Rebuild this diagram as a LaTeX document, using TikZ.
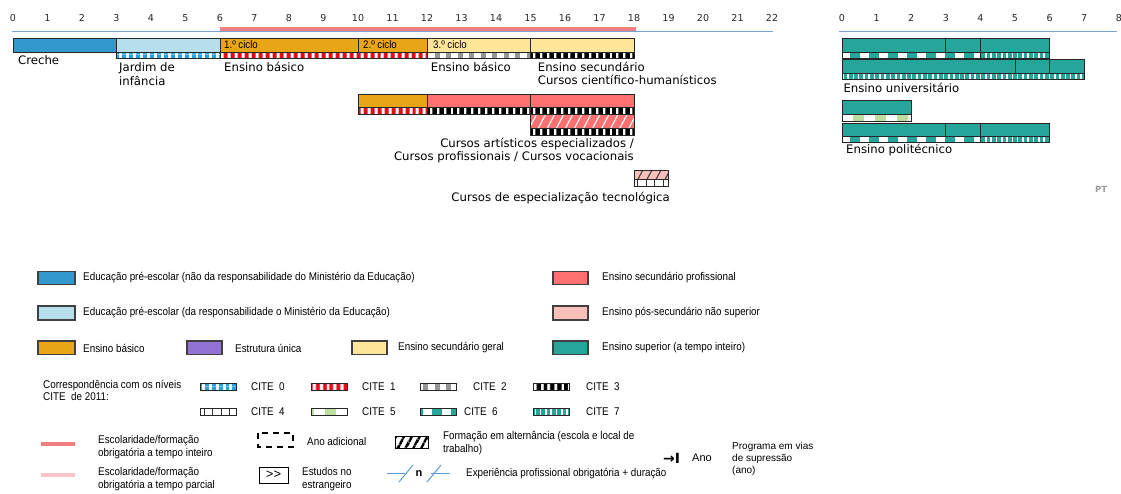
\documentclass[tikz,border=0pt]{standalone}
\usepackage{fontspec}
\setmainfont{DejaVu Sans}
\newfontfamily\narrowfont[FakeStretch=0.88]{Liberation Sans}
\newfontfamily\arialfont{Liberation Sans}
\usetikzlibrary{patterns.meta}
\definecolor{creche}{RGB}{51,153,204}
\definecolor{jardim}{RGB}{183,222,235}
\definecolor{basico}{RGB}{232,165,22}
\definecolor{secgeral}{RGB}{255,230,153}
\definecolor{secprof}{RGB}{255,112,112}
\definecolor{possec}{RGB}{248,192,184}
\definecolor{superior}{RGB}{38,166,154}
\definecolor{unica}{RGB}{145,115,213}
\definecolor{citeblue}{RGB}{40,160,220}
\definecolor{citered}{RGB}{230,10,25}
\definecolor{citegray}{RGB}{150,150,150}
\definecolor{citegreen}{RGB}{190,222,160}
\definecolor{axisblue}{RGB}{120,165,215}
\definecolor{obrig}{RGB}{240,128,128}
\definecolor{parcial}{RGB}{250,195,200}
\definecolor{expblue}{RGB}{91,155,213}

\begin{document}
\begin{tikzpicture}[x=1pt,y=-1pt]
  \tikzset{bar/.style={draw=black!85,line width=0.8pt}}
  \tikzset{stripe/.style n args={3}{bar,preaction={fill=white},pattern={Lines[angle=90,distance=#1,line width=#2]},pattern color=#3}}
  \tikzset{cite0/.style={stripe={6.5pt}{4.5pt}{citeblue}}}
  \tikzset{cite1/.style={stripe={6.9pt}{4pt}{citered}}}
  \tikzset{cite2/.style={stripe={11.5pt}{5pt}{citegray}}}
  \tikzset{cite3/.style={stripe={6.9pt}{4.5pt}{black}}}
  \tikzset{cite4/.style={stripe={8.5pt}{1pt}{black!80}}}
  \tikzset{cite5/.style={stripe={22pt}{11pt}{citegreen}}}
  \tikzset{cite6/.style={stripe={19pt}{9.5pt}{superior}}}
  \tikzset{cite7/.style={bar,preaction={fill=superior},pattern={Lines[angle=90,distance=5.3pt,line width=1.6pt]},pattern color=white}}
  \tikzset{alternancia/.style n args={2}{bar,preaction={fill=#1},pattern={Lines[angle=62,distance=8pt,line width=1.1pt]},pattern color=#2}}
  \tikzset{num/.style={anchor=base,inner sep=0pt,text=black!85,font=\fontsize{9.5}{11}\selectfont}}
  \tikzset{lbl/.style={anchor=west,inner sep=0pt,align=left,font=\fontsize{11.7}{13.3}\selectfont}}
  \tikzset{ciclo/.style={anchor=base west,inner sep=0pt,font=\narrowfont\fontsize{11}{12}\selectfont}}
  \tikzset{leg/.style={anchor=west,inner sep=0pt,align=left,font=\narrowfont\fontsize{11.2}{12.5}\selectfont}}
  \tikzset{legbox/.style={draw=black!75,line width=1.2pt}}
  \useasboundingbox (0,0) rectangle (1121,493);

  \begin{scope}[xshift=13pt,x=34.5pt]
    \draw[axisblue,line width=1pt] (-0.03,31.5) -- (22.03,31.5);
    \draw[obrig,line width=4pt] (6,28.5) -- (18.05,28.5);
    \foreach \n in {0,...,22} \node[num] (year\n) at (\n,21) {\n};
    \draw[bar,fill=creche] (0,38) rectangle (3,52);
    \draw[bar,fill=jardim] (3,38) rectangle (6,52);
    \draw[bar,fill=basico] (6,38) rectangle (10,52);
    \draw[bar,fill=basico] (10,38) rectangle (12,52);
    \draw[bar,fill=secgeral] (12,38) rectangle (15,52);
    \draw[bar,fill=secgeral] (15,38) rectangle (18,52);
    \draw[cite0] (3,52) rectangle (6,58.3);
    \draw[cite1] (6,52) rectangle (12,58.3);
    \draw[cite2] (12,52) rectangle (15,58.3);
    \draw[cite3] (15,52) rectangle (18,58.3);
    \draw[bar,fill=basico] (10,94.3) rectangle (12,107.3);
    \draw[bar,fill=secprof] (12,94.3) rectangle (15,107.3);
    \draw[bar,fill=secprof] (15,94.3) rectangle (18,107.3);
    \draw[cite1] (10,107.3) rectangle (12,114.3);
    \draw[cite3] (12,107.3) rectangle (15,114.3);
    \draw[cite3] (15,107.3) rectangle (18,114.3);
    \draw[alternancia={secprof}{white}] (15,114.3) rectangle (18,128.3);
    \draw[cite3] (15,128.3) rectangle (18,135.7);
    \draw[alternancia={possec}{black!75}] (18,170) rectangle (19,179.3);
    \draw[cite4] (18,179.3) rectangle (19,186);
  \end{scope}

  \begin{scope}[xshift=842pt,x=34.6pt]
    \draw[axisblue,line width=1pt] (-0.08,31.5) -- (7.95,31.5);
    \foreach \n in {0,...,8} \node[num] (ects\n) at (\n,21) {\n};
    \draw[bar,fill=superior] (0,38) rectangle (3,52);
    \draw[bar,fill=superior] (3,38) rectangle (4,52);
    \draw[bar,fill=superior] (4,38) rectangle (6,52);
    \draw[cite6] (0,52) rectangle (4,58.3);
    \draw[cite7] (4,52) rectangle (6,58.3);
    \draw[bar,fill=superior] (0,59.7) rectangle (5,73);
    \draw[bar,fill=superior] (5,59.7) rectangle (6,73);
    \draw[bar,fill=superior] (6,59.7) rectangle (7,73);
    \draw[cite7] (0,73) rectangle (7,79.7);
    \draw[bar,fill=superior] (0,100.7) rectangle (2,114.7);
    \draw[cite5] (0,114.7) rectangle (2,121.7);
    \draw[bar,fill=superior] (0,123) rectangle (3,136);
    \draw[bar,fill=superior] (3,123) rectangle (4,136);
    \draw[bar,fill=superior] (4,123) rectangle (6,136);
    \draw[cite6] (0,136) rectangle (4,142.3);
    \draw[cite7] (4,136) rectangle (6,142.3);
  \end{scope}

  \node[lbl] (creche) at (18,60) {Creche};
  \node[lbl] (jardim) at (119,74) {Jardim de\\infância};
  \node[lbl] (basico1) at (224,67) {Ensino básico};
  \node[lbl] (basico3) at (430.7,67) {Ensino básico};
  \node[lbl] (secgeral) at (537.7,73.6) {Ensino secundário\\Cursos científico-humanísticos};
  \node[lbl,anchor=east,align=right] (secprof) at (634,150.5) {Cursos artísticos especializados /\\Cursos profissionais / Cursos vocacionais};
  \node[lbl,anchor=east] (cet) at (670,198) {Cursos de especialização tecnológica};
  \node[lbl] (univ) at (843.3,87.5) {Ensino universitário};
  \node[lbl] (poli) at (846,150) {Ensino politécnico};
  \node[ciclo] (ciclo1) at (224,48.5) {1.º ciclo};
  \node[ciclo] (ciclo2) at (363,48.5) {2.º ciclo};
  \node[ciclo] (ciclo3) at (433,48.5) {3.º ciclo};
  \node[anchor=west,inner sep=0pt,text=black!40,font=\bfseries\fontsize{8.5}{10}\selectfont] (pais) at (1095,189) {PT};

  \draw[legbox,fill=creche] (38,271.7) rectangle (75,284.3);
  \node[leg] (lcreche) at (83,278) {Educação pré-escolar (não da responsabilidade do Ministério da Educação)};
  \draw[legbox,fill=jardim] (38,306) rectangle (75,320);
  \node[leg] (ljardim) at (83,313) {Educação pré-escolar (da responsabilidade o Ministério da Educação)};
  \draw[legbox,fill=basico] (38,341) rectangle (75,354.3);
  \node[leg] (lbasico) at (83,348) {Ensino básico};
  \draw[legbox,fill=unica] (187,341) rectangle (222,354.3);
  \node[leg] (lunica) at (235,348) {Estrutura única};
  \draw[legbox,fill=secgeral] (352,341) rectangle (387,354.3);
  \node[leg] (lsecgeral) at (398,348) {Ensino secundário geral};
  \draw[legbox,fill=secprof] (553,271.7) rectangle (588,284.3);
  \node[leg] (lsecprof) at (602,278) {Ensino secundário profissional};
  \draw[legbox,fill=possec] (553,306) rectangle (588,320);
  \node[leg] (lpossec) at (602,313) {Ensino pós-secundário não superior};
  \draw[legbox,fill=superior] (553,341) rectangle (588,354.3);
  \node[leg] (lsuperior) at (602,348) {Ensino superior (a tempo inteiro)};

  \node[leg] (lcite) at (43,390.5) {Correspondência com os níveis\\CITE~ de 2011:};
  \draw[cite0] (200,383) rectangle (236,390);
  \node[leg] (lcite0) at (251,386.5) {CITE~ 0};
  \draw[cite1] (311,383) rectangle (347,390);
  \node[leg] (lcite1) at (362,386.5) {CITE~ 1};
  \draw[cite2] (420,383) rectangle (456,390);
  \node[leg] (lcite2) at (473,386.5) {CITE~ 2};
  \draw[cite3] (533,383) rectangle (569,390);
  \node[leg] (lcite3) at (586,386.5) {CITE~ 3};
  \draw[cite4] (200,408) rectangle (236,415);
  \node[leg] (lcite4) at (251,411.5) {CITE~ 4};
  \draw[cite5] (311,408) rectangle (347,415);
  \node[leg] (lcite5) at (362,411.5) {CITE~ 5};
  \draw[cite6] (420,408) rectangle (456,415);
  \node[leg] (lcite6) at (464,411.5) {CITE~ 6};
  \draw[cite7] (533,408) rectangle (569,415);
  \node[leg] (lcite7) at (586,411.5) {CITE~ 7};

  \draw[obrig,line width=4pt] (41,443.5) -- (75,443.5);
  \node[leg] (lobrig) at (98,447) {Escolaridade/formação\\obrigatória a tempo inteiro};
  \draw[parcial,line width=4pt] (41,474.5) -- (75,474.5);
  \node[leg] (lparcial) at (98,479.3) {Escolaridade/formação\\obrigatória a tempo parcial};
  \draw[line width=1.8pt,dash pattern=on 6pt off 5pt] (258,433) rectangle (293,447);
  \node[leg] (ladicional) at (307,441) {Ano adicional};
  \node[draw,line width=0.8pt,minimum width=29pt,minimum height=16pt,inner sep=0pt,font=\arialfont\fontsize{13}{14}\selectfont] (estrangeiro) at (273.5,475) {>>};
  \node[leg] (lestrangeiro) at (302,479) {Estudos no\\estrangeiro};
  \draw[line width=1pt,preaction={fill=white},pattern={Lines[angle=62,distance=6.5pt,line width=2.6pt]},pattern color=black] (395,436) rectangle (428,448.3);
  \node[leg] (lalternancia) at (443,443.3) {Formação em alternância (escola e local de\\trabalho)};
  \draw[expblue,line width=1pt] (387,473) -- (405,473);
  \draw[expblue,line width=1pt] (399,482) -- (413,465);
  \node[inner sep=0pt,font=\arialfont\bfseries\fontsize{11}{12}\selectfont] (n) at (419,474) {n};
  \draw[expblue,line width=1pt] (427,482) -- (441,465);
  \draw[expblue,line width=1pt] (431,473) -- (450,473);
  \node[leg] (lexperiencia) at (466,474) {Experiência profissional obrigatória + duração};
  \node[anchor=west,inner sep=0pt,font=\bfseries\fontsize{14}{15}\selectfont] (seta) at (663,458) {→I};
  \node[anchor=west,inner sep=0pt,font=\arialfont\fontsize{11}{12}\selectfont] (ano) at (692,458) {Ano};
  \node[anchor=west,inner sep=0pt,align=left,font=\arialfont\fontsize{10}{12.3}\selectfont] (supressao) at (732,459) {Programa em vias\\de supressão\\(ano)};
\end{tikzpicture}
\end{document}
